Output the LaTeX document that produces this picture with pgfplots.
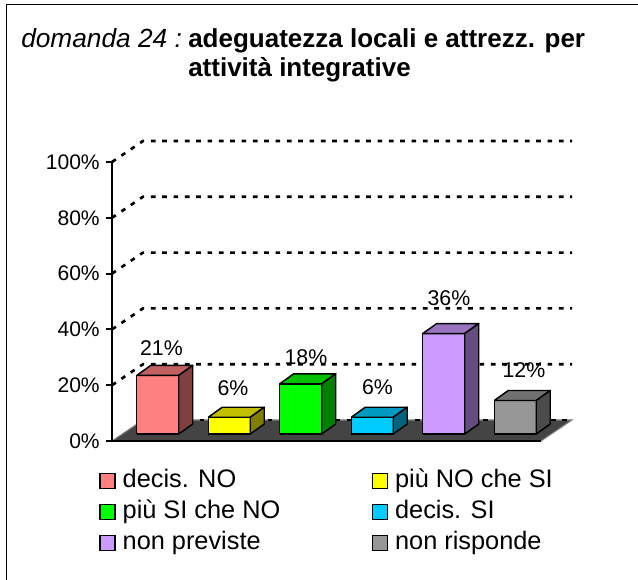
\documentclass[border=0pt]{standalone}
\usepackage{pgfplots}
\pgfplotsset{compat=1.18}
\usepackage{fontspec}
\setmainfont{Liberation Sans}

\definecolor{f1}{HTML}{FF8080}\definecolor{t1}{HTML}{C06060}\definecolor{s1}{HTML}{804040}
\definecolor{f2}{HTML}{FFFF00}\definecolor{t2}{HTML}{C0C000}\definecolor{s2}{HTML}{808000}
\definecolor{f3}{HTML}{00FF00}\definecolor{t3}{HTML}{00C000}\definecolor{s3}{HTML}{008000}
\definecolor{f4}{HTML}{00CCFF}\definecolor{t4}{HTML}{0099C0}\definecolor{s4}{HTML}{006680}
\definecolor{f5}{HTML}{CC99FF}\definecolor{t5}{HTML}{9973C0}\definecolor{s5}{HTML}{664D80}
\definecolor{f6}{HTML}{969696}\definecolor{t6}{HTML}{717171}\definecolor{s6}{HTML}{4B4B4B}
\definecolor{floorc}{HTML}{444444}

% 3D bar: #1 category position, #2 value (%), #3 colour index
\newcommand\tdbar[3]{%
  \pgfmathsetmacro\bxl{#1-0.2937+0.14}%
  \pgfmathsetmacro\bxr{#1+0.2937+0.14}%
  \pgfmathsetmacro\bxlb{#1-0.2937+0.3357}%
  \pgfmathsetmacro\bxrb{#1+0.2937+0.3357}%
  \pgfmathsetmacro\byt{#2+2.509}%
  \pgfmathsetmacro\bytb{#2+6.093}%
  \addplot[forget plot, fill=f#3, draw=black, line width=1.1pt, line join=round]
    coordinates {(\bxl,2.509) (\bxr,2.509) (\bxr,\byt) (\bxl,\byt) (\bxl,2.509)};
  \addplot[forget plot, fill=t#3, draw=black, line width=1.1pt, line join=round]
    coordinates {(\bxl,\byt) (\bxr,\byt) (\bxrb,\bytb) (\bxlb,\bytb) (\bxl,\byt)};
  \addplot[forget plot, fill=s#3, draw=black, line width=1.1pt, line join=round]
    coordinates {(\bxr,2.509) (\bxrb,6.093) (\bxrb,\bytb) (\bxr,\byt) (\bxr,2.509)};
}

\begin{document}
\begin{tikzpicture}
\useasboundingbox (0pt,0pt) rectangle (478.5pt,435pt);
\draw[line width=1.3pt] (4.875pt,0pt) -- (4.875pt,431.6pt) -- (478.5pt,431.6pt);

\node[anchor=base west, inner sep=0pt, font=\fontsize{19.7}{23}\selectfont\itshape] at (15.75pt,399pt) {domanda 24 :};
\node[anchor=base west, inner sep=0pt, font=\fontsize{19.5}{23}\selectfont\bfseries] at (141pt,399pt) {adeguatezza locali e attrezz. per};
\node[anchor=base west, inner sep=0pt, font=\fontsize{19.5}{23}\selectfont\bfseries] at (141pt,377.5pt) {attività integrative};

\begin{axis}[
  at={(84pt,104.25pt)}, anchor=south west,
  scale only axis, width=321.75pt, height=209.25pt,
  xmin=0.5, xmax=6.5, ymin=0, ymax=100,
  clip=false,
  axis x line=none, axis y line*=left,
  axis line style={line width=1.5pt, black, -},
  xtick=\empty,
  ytick={0,20,40,60,80,100},
  yticklabel={\pgfmathprintnumber{\tick}\%},
  /pgf/number format/assume math mode=true,
  tick align=outside, major tick length=4.5pt,
  ytick style={line width=1.5pt, black},
  yticklabel style={font=\fontsize{15.8}{18}\selectfont, inner sep=0pt, xshift=-4.5pt},
  legend columns=2,
  legend cell align=left,
  legend style={draw=none, fill=none, at={(axis description cs:-0.0303,-0.0986)}, anchor=north west,
    inner sep=0pt, font=\fontsize{19}{22}\selectfont,
    nodes={inner sep=0pt, text height=14pt, text depth=4pt},
    row sep=5.25pt,
    /tikz/every odd column/.append style={column sep=5.25pt},
    /tikz/every even column/.append style={column sep=68.5pt}},
]
% floor
\addplot[forget plot, fill=floorc, draw=gray, line width=0.8pt]
  coordinates {(0.5,0) (6.5,0) (6.9336,7.527) (0.9336,7.527) (0.5,0)};
% back-wall gridlines
\addplot[forget plot, black, line width=2pt, dash pattern=on 3.5pt off 5pt] coordinates {(0.9336,7.527) (6.9336,7.527)};
\addplot[forget plot, black, line width=2pt, dash pattern=on 3.5pt off 5pt] coordinates {(0.5,20) (0.9336,27.527) (6.9336,27.527)};
\addplot[forget plot, black, line width=2pt, dash pattern=on 3.5pt off 5pt] coordinates {(0.5,40) (0.9336,47.527) (6.9336,47.527)};
\addplot[forget plot, black, line width=2pt, dash pattern=on 3.5pt off 5pt] coordinates {(0.5,60) (0.9336,67.527) (6.9336,67.527)};
\addplot[forget plot, black, line width=2pt, dash pattern=on 3.5pt off 5pt] coordinates {(0.5,80) (0.9336,87.527) (6.9336,87.527)};
\addplot[forget plot, black, line width=2pt, dash pattern=on 3.5pt off 5pt] coordinates {(0.5,100) (0.9336,107.527) (6.9336,107.527)};
\addplot[forget plot, black, line width=1.5pt] coordinates {(0.5,0) (6.5,0)};
% bars
\tdbar{1}{21}{1}
\tdbar{2}{6}{2}
\tdbar{3}{18}{3}
\tdbar{4}{6}{4}
\tdbar{5}{36}{5}
\tdbar{6}{12}{6}
% value labels
\addplot[forget plot, draw=none, mark=none,
  visualization depends on={\thisrow{dx}\as\ldx},
  visualization depends on={\thisrow{dy}\as\ldy},
  nodes near coords={\pgfmathprintnumber{\pgfplotspointmeta}\%},
  every node near coord/.append style={anchor=center, xshift=\ldx pt, yshift=\ldy pt,
    font=\fontsize{16}{18}\selectfont, inner sep=0pt}]
  table {
x y dx dy
1 21 10.3 25.8
2 6 10.3 27.2
3 18 11.4 25.4
4 6 11.4 28.0
5 36 11.4 32.0
6 12 14.0 28.1
};
% legend
\addlegendimage{legend image code/.code={\draw[fill=f1, draw=black, line width=1.1pt] (0pt,-5.6pt) rectangle (11.2pt,5.6pt);}}
\addlegendentry{decis. NO}
\addlegendimage{legend image code/.code={\draw[fill=f2, draw=black, line width=1.1pt] (0pt,-5.6pt) rectangle (11.2pt,5.6pt);}}
\addlegendentry{più NO che SI}
\addlegendimage{legend image code/.code={\draw[fill=f3, draw=black, line width=1.1pt] (0pt,-5.6pt) rectangle (11.2pt,5.6pt);}}
\addlegendentry{più SI che NO}
\addlegendimage{legend image code/.code={\draw[fill=f4, draw=black, line width=1.1pt] (0pt,-5.6pt) rectangle (11.2pt,5.6pt);}}
\addlegendentry{decis. SI}
\addlegendimage{legend image code/.code={\draw[fill=f5, draw=black, line width=1.1pt] (0pt,-5.6pt) rectangle (11.2pt,5.6pt);}}
\addlegendentry{non previste}
\addlegendimage{legend image code/.code={\draw[fill=f6, draw=black, line width=1.1pt] (0pt,-5.6pt) rectangle (11.2pt,5.6pt);}}
\addlegendentry{non risponde}
\end{axis}
\end{tikzpicture}
\end{document}
